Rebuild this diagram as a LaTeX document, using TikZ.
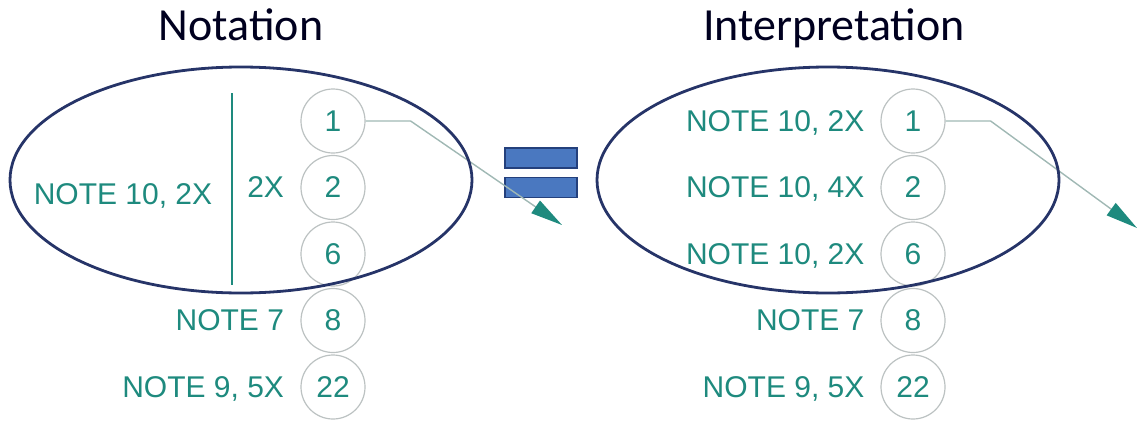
\documentclass[tikz,border=0pt]{standalone}
\usepackage{fontspec}
\setmainfont{Liberation Sans}
\newfontfamily\headfont{Carlito}
\usepackage{tikz}
\usetikzlibrary{matrix,arrows.meta,positioning}

\definecolor{noteteal}{RGB}{30,138,126}
\definecolor{ringgray}{RGB}{188,194,194}
\definecolor{ovalnavy}{RGB}{38,52,104}
\definecolor{leadgray}{RGB}{160,184,180}
\definecolor{eqblue}{RGB}{74,120,192}
\definecolor{eqedge}{RGB}{36,64,124}

\begin{document}
\begin{tikzpicture}[x=0.5pt,y=-0.5pt,
    note/.style={font=\fontsize{15}{18}\selectfont, text=noteteal, inner sep=0pt, text height=11pt, text depth=0pt},
    balloon/.style={circle, draw=ringgray, line width=0.6pt, minimum size=32pt, inner sep=0pt,
      font=\fontsize{15}{18}\selectfont, text=noteteal},
    oval/.style={draw=ovalnavy, line width=1.4pt},
    leader/.style={draw=leadgray, line width=0.7pt, -{Triangle[length=16pt,width=7.5pt,color=noteteal]}},
    heading/.style={font=\headfont\fontsize{23}{27}\selectfont, text=black!88!blue},
    eqbar/.style={draw=eqedge, fill=eqblue, line width=0.6pt, minimum width=36pt, minimum height=10pt, inner sep=0pt}
  ]
  \useasboundingbox (0,0) rectangle (1138,423);

  % titles
  \node[heading, anchor=base] (notation) at (241,40) {Notation};
  \node[heading, anchor=base] (interp) at (834,40) {Interpretation};

  % left: notation
  \matrix (lhs) [matrix of nodes, row sep=0.65pt, column sep=8pt, inner sep=0pt, anchor=north east,
      column 1/.style={nodes={note, anchor=base east}}, column 2/.style={nodes={balloon}}] at (366,88)
  {
               & 1  \\
    2X         & 2  \\
               & 6  \\
    NOTE 7     & 8  \\
    NOTE 9, 5X & 22 \\
  };
  \node[note] (lgroup) at (123,193) {NOTE 10, 2X};
  \draw[noteteal, line width=1pt] (232,93) -- (232,285);

  % right: interpretation
  \matrix (rhs) [matrix of nodes, row sep=0.65pt, column sep=8pt, inner sep=0pt, anchor=north east,
      column 1/.style={nodes={note, anchor=base east}}, column 2/.style={nodes={balloon}}] at (946,88)
  {
    NOTE 10, 2X & 1  \\
    NOTE 10, 4X & 2  \\
    NOTE 10, 2X & 6  \\
    NOTE 7      & 8  \\
    NOTE 9, 5X  & 22 \\
  };

  % equals sign
  \node[eqbar] (eqtop) at (541,158) {};
  \node[eqbar, below=4pt of eqtop] (eqbot) {};

  % leaders
  \coordinate (ltip) at (562,225);
  \coordinate (rtip) at (1137,228);
  \draw[leader] (lhs-1-2.east) -- ++(45,0) -- (ltip);
  \draw[leader] (rhs-1-2.east) -- ++(45,0) -- (rtip);

  % groups
  \draw[oval] (241,180) ellipse [x radius=231, y radius=113];
  \draw[oval] (828,180) ellipse [x radius=231, y radius=113];
\end{tikzpicture}
\end{document}
